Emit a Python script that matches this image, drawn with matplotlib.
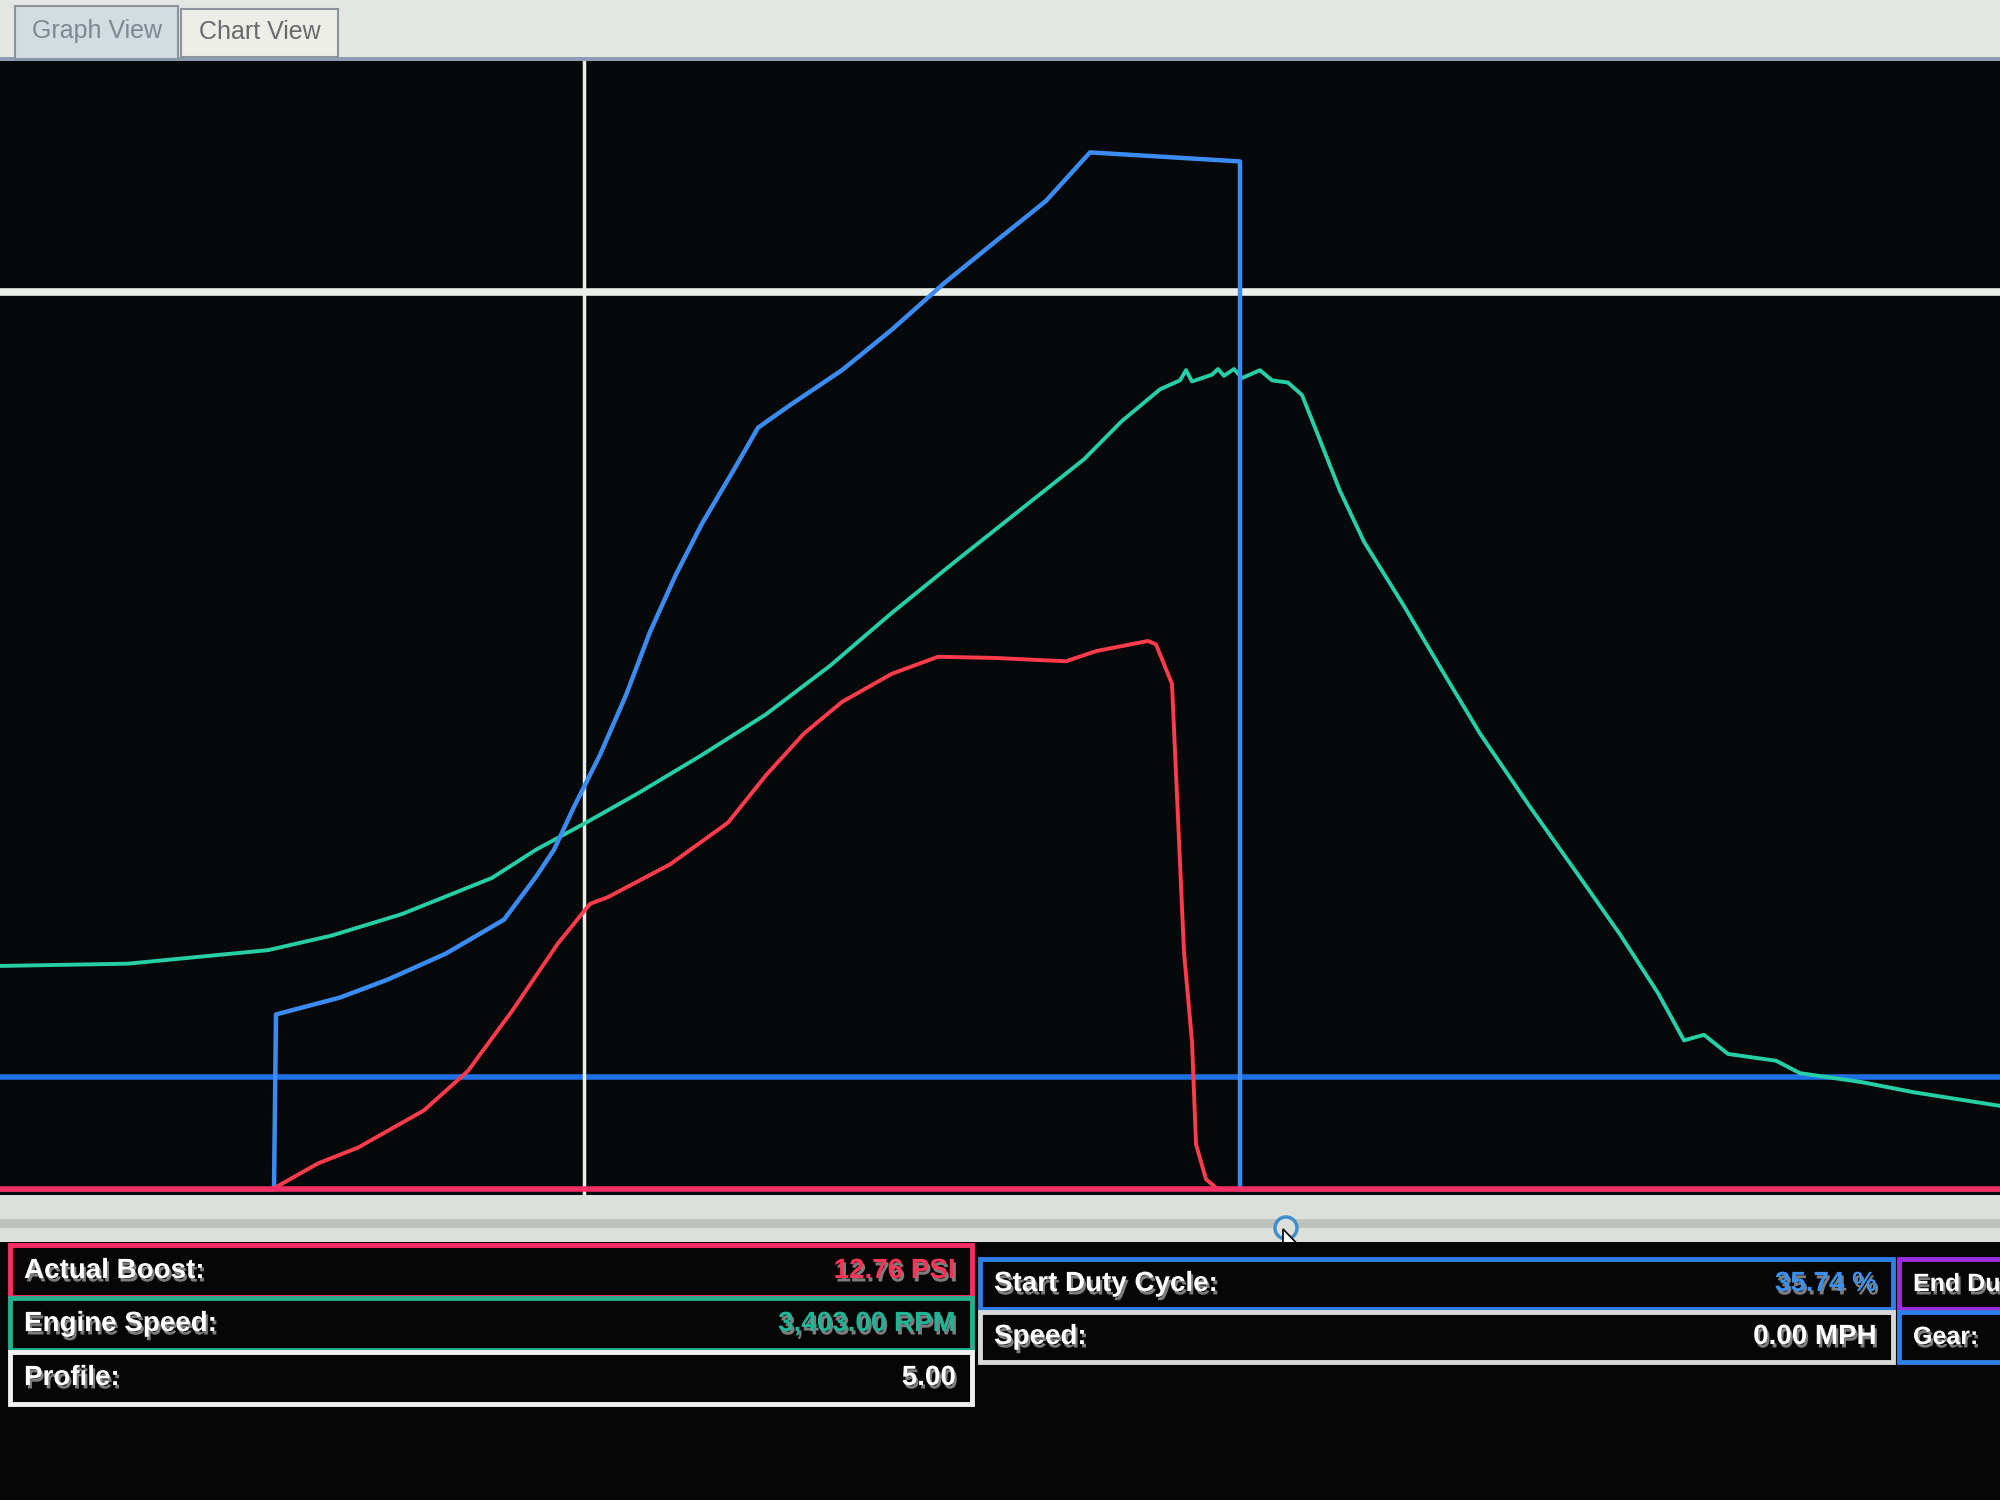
import matplotlib
matplotlib.use('Agg')
import matplotlib.pyplot as plt
import matplotlib.patheffects as pe
from matplotlib.patches import Rectangle, Circle, Polygon

# ---- data (time in % of window, values in % of graph height) ----
duty_t = [0, 13.7, 13.8, 17.0, 19.4, 22.3, 25.2, 26.8, 27.7, 28.7, 30.0, 31.3, 32.5, 33.8,
          35.1, 36.7, 37.9, 39.5, 42.1, 44.6, 47.2, 49.7, 52.3, 54.5, 62.0, 62.0, 100]
duty_v = [0, 0, 15.5, 17.0, 18.6, 20.9, 23.9, 27.7, 30.1, 33.9, 38.5, 43.8, 49.4, 54.5,
          59.0, 63.8, 67.5, 69.5, 72.6, 76.2, 80.3, 83.9, 87.6, 91.9, 91.1, 0, 0]

rpm_t = [0, 6.4, 13.4, 16.6, 20.1, 24.6, 26.8, 29.3, 31.9, 35.1, 38.3, 41.5, 44.6, 47.8,
         51.0, 54.2, 56.1, 58.0, 59.0, 59.3, 59.6, 60.6, 60.9, 61.2, 61.7, 62.1, 63.0, 63.6,
         64.4, 65.1, 66.0, 67.0, 68.2, 70.2, 72.1, 74.0, 76.5, 79.1, 81.0, 82.9, 84.2, 85.2,
         86.4, 88.8, 90.0, 93.1, 95.7, 100]
rpm_v = [19.8, 20.0, 21.2, 22.5, 24.4, 27.6, 30.1, 32.5, 35.1, 38.5, 42.1, 46.4, 51.1, 55.7,
         60.2, 64.7, 68.1, 70.9, 71.7, 72.6, 71.6, 72.2, 72.7, 72.1, 72.7, 71.9, 72.6, 71.7,
         71.5, 70.4, 66.4, 61.9, 57.4, 51.7, 46.0, 40.4, 33.9, 27.4, 22.6, 17.4, 13.2, 13.7,
         12.0, 11.4, 10.3, 9.5, 8.6, 7.4]

boost_t = [0, 13.6, 15.9, 17.9, 21.2, 23.4, 25.6, 27.9, 29.5, 30.4, 33.5, 36.4, 38.3, 40.2,
           42.1, 44.6, 46.9, 49.7, 53.3, 54.8, 57.4, 57.8, 58.6, 58.9, 59.2, 59.6, 59.8, 60.3,
           60.9, 100]
boost_v = [0, 0, 2.3, 3.7, 7.0, 10.5, 15.8, 21.8, 25.3, 25.9, 28.8, 32.5, 36.7, 40.4,
           43.2, 45.7, 47.2, 47.1, 46.8, 47.7, 48.6, 48.3, 44.8, 32.9, 21.0, 13.1, 4.0, 0.9,
           0, 0]

upper_limit = 79.5
duty_limit = 10.0
cursor_t = 29.2

labels_left = ['Actual Boost:', 'Engine Speed:', 'Profile:']
values_left = ['12.76 PSI', '3,403.00 RPM', '5.00']
labels_right = ['Start Duty Cycle:', 'Speed:']
values_right = ['35.74 %', '0.00 MPH']
labels_edge = ['End Du', 'Gear:']  # last column is cut off by the screen edge

# colours
c_bg = '#07080a'
c_blue = '#3b8cf2'
c_blue_line = '#1f6fe6'
c_green = '#27cfa6'
c_red = '#ff3b4c'
c_pink = '#f52f66'
c_white = '#e9eee9'

fig = plt.figure(figsize=(20, 15), dpi=100)
fig.patch.set_facecolor('#050505')

# ---- window chrome in pixel coordinates ----
ui = fig.add_axes([0, 0, 1, 1])
ui.set_xlim(0, 2000)
ui.set_ylim(1500, 0)
ui.axis('off')

# tab bar
ui.add_patch(Rectangle((0, 0), 2000, 61, facecolor='#e3e6e2', edgecolor='none'))
ui.add_patch(Rectangle((0, 57), 2000, 4, facecolor='#8d9db3', edgecolor='none'))
ui.add_patch(Rectangle((15, 6), 163, 53, facecolor='#d2dce1', edgecolor='#8b949c', lw=1.5))
ui.add_patch(Rectangle((181, 9), 157, 48, facecolor='#eeeee8', edgecolor='#8b949c', lw=1.5))
ui.text(97, 31, 'Graph View', ha='center', va='center', fontsize=18,
        family='Liberation Sans', color='#7e8891')
ui.text(260, 32, 'Chart View', ha='center', va='center', fontsize=18,
        family='Liberation Sans', color='#676b6e')

# scroll strip
ui.add_patch(Rectangle((0, 1195), 2000, 47, facecolor='#dcdfda', edgecolor='none'))
ui.add_patch(Rectangle((0, 1219), 2000, 9, facecolor='#bfc2be', edgecolor='none'))
ui.add_patch(Circle((1286, 1228), 11, facecolor='#dcdfda', edgecolor='#3f8fce', lw=2.5))
cursor = [(0, 0), (0, 34), (8, 27), (14, 40), (19, 38), (13, 25), (24, 25)]
ui.add_patch(Polygon([(1283 + x, 1229 + y) for x, y in cursor], closed=True,
                     facecolor='white', edgecolor='black', lw=1.2))

# info panel
ui.add_patch(Rectangle((0, 1242), 2000, 258, facecolor='#050505', edgecolor='none'))

shadow = [pe.SimplePatchShadow(offset=(1.5, -2.5), shadow_rgbFace='#8a8a8a', alpha=0.9),
          pe.Normal()]


def info_box(x, y, w, h, edge, label, value=None, vcolor='white', size=20):
    txt = dict(fontsize=size, family='Liberation Sans', weight='bold', va='center')
    ui.add_patch(Rectangle((x, y), w, h, facecolor='#060606', edgecolor=edge, lw=3.5))
    ui.text(x + 14, y + h / 2, label, color='white', ha='left', path_effects=shadow, **txt)
    if value is not None:
        ui.text(x + w - 16, y + h / 2, value, color=vcolor, ha='right',
                path_effects=shadow, **txt)


left_edges = [c_pink, '#22b08f', '#f2f2f2']
left_vcol = ['#ff3355', '#1fb596', 'white']
left_y = [1245, 1298, 1352]
for lab, val, ec, vc, yy in zip(labels_left, values_left, left_edges, left_vcol, left_y):
    info_box(10, yy, 962, 52, ec, lab, val, vc)

right_edges = ['#2f7fe8', '#d8d8d8']
right_vcol = ['#3b91f0', 'white']
right_y = [1259, 1312]
for lab, val, ec, vc, yy in zip(labels_right, values_right, right_edges, right_vcol, right_y):
    info_box(980, yy, 913, 50, ec, lab, val, vc)

edge_edges = ['#9a2ee0', '#2f7fe8']
for lab, ec, yy in zip(labels_edge, edge_edges, right_y):
    info_box(1899, yy, 140, 50, ec, lab, size=18)

# ---- graph ----
ax = fig.add_axes([0, 1 - 1195 / 1500, 1, (1195 - 61) / 1500])
ax.set_facecolor(c_bg)
ax.set_xlim(0, 100)
ax.set_ylim(-0.5, 100)
for s in ax.spines.values():
    s.set_visible(False)
ax.set_xticks([])
ax.set_yticks([])

ax.axhline(duty_limit, color=c_blue_line, lw=4, zorder=2)
ax.axhline(upper_limit, color=c_white, lw=5.5, zorder=3)
ax.axvline(cursor_t, color=c_white, lw=2.5, zorder=3)

ax.plot(rpm_t, rpm_v, color=c_green, lw=2.8, zorder=4)
ax.plot(duty_t, duty_v, color=c_blue, lw=3.2, zorder=5)
ax.plot(boost_t, boost_v, color=c_red, lw=2.8, zorder=6)
ax.axhline(0, color=c_pink, lw=4, zorder=7)

fig.savefig('out.png', dpi=100, facecolor=fig.get_facecolor())
